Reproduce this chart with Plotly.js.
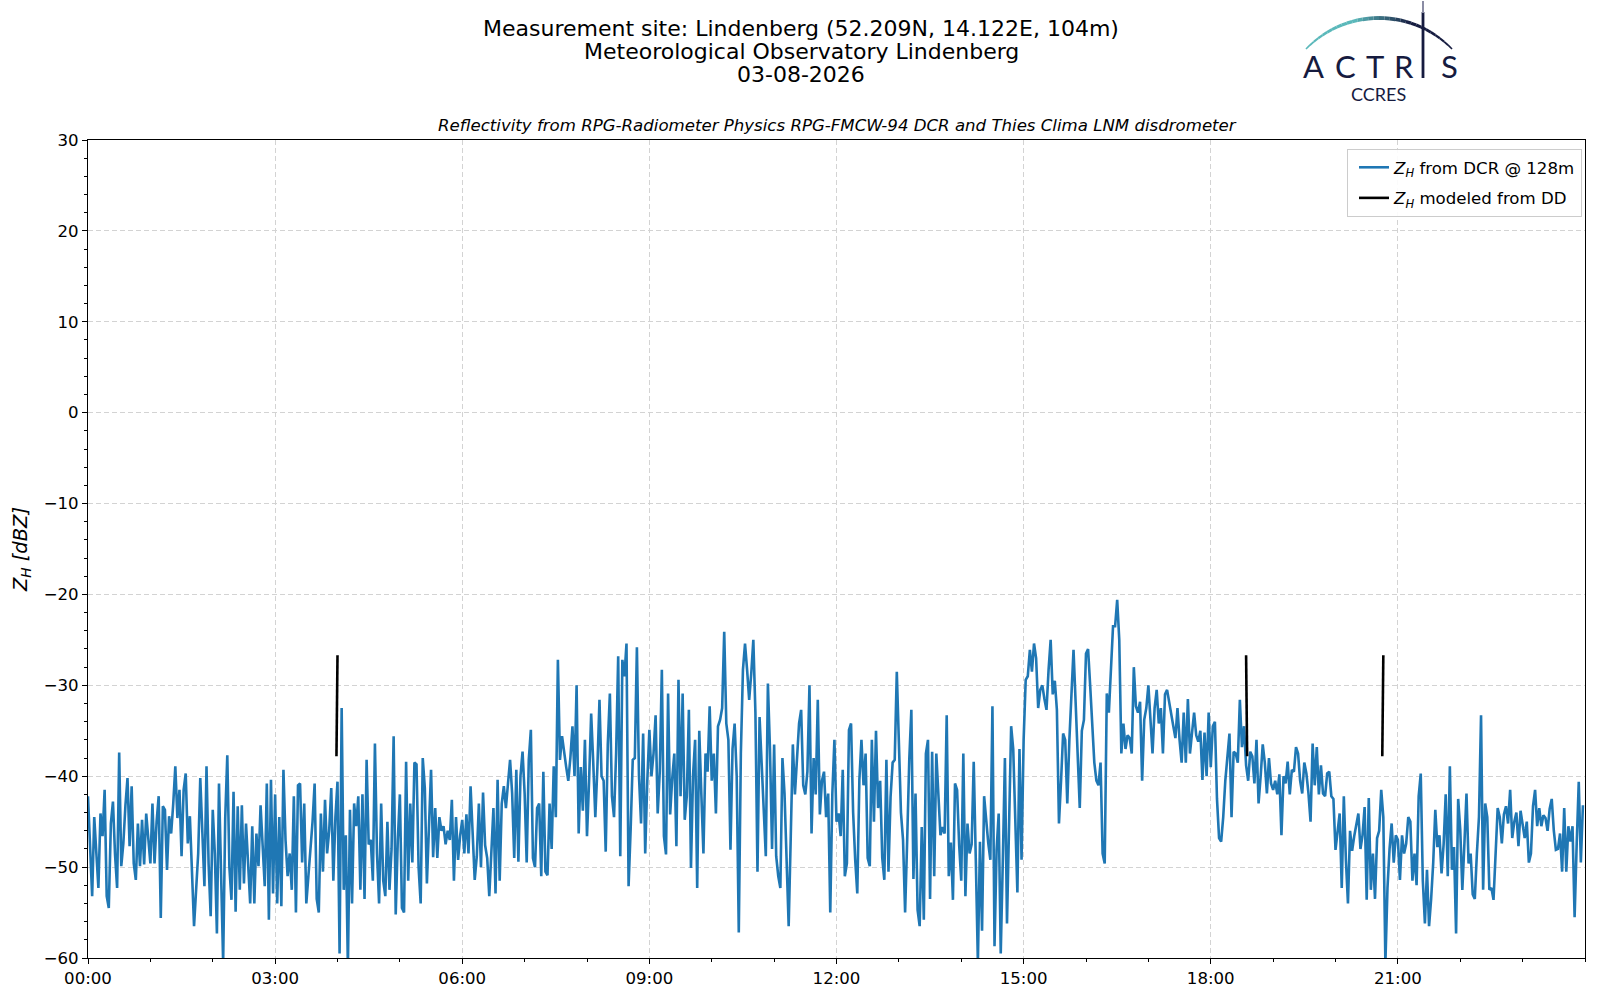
<!DOCTYPE html>
<html>
<head>
<meta charset="utf-8">
<script src="https://cdn.plot.ly/plotly-3.0.1.min.js"></script>
<style>
html,body{margin:0;padding:0;background:#fff;}
#chart{width:1600px;height:1000px;}
</style>
</head>
<body>
<div id="chart"></div>
<script>
// ---- data (2-minute samples) ----
var dayStart = '2026-03-08 00:00';
var stepMinutes = 2;

var zh_00_03 = [-42.2,-48,-53.2,-44.5,-48.3,-52.3,-44.1,-46.6,-41.5,-53.2,-54.5,-45.2,-42.8,-48.6,-52.3,-37.4,-49.9,-47.4,-43.2,-40.2,
-47.7,-41.1,-49.6,-51.4,-45.2,-49.9,-44.8,-49.7,-44.1,-47,-49.6,-43.0,-49.6,-45,-42.2,-55.6,-43.3,-43.7,-50.3,-44.4,
-46.3,-43,-38.9,-44.6,-41.5,-48.8,-41.5,-39.7,-47.4,-44.4,-49.6,-56.5,-52.5,-48.5,-40.2,-45.9,-52.1,-38.9,-49.6,-55.4,
-43.7,-48.5,-57.3,-40.8,-50,-60.5,-44.6,-37.7,-50,-53.6,-41.7,-54.9,-43.3,-52.5,-43.2,-51.8,-45.2,-49,-54.0,-45.5,
-54.0,-46.3,-49.9,-43.2,-48,-52.1,-40.8,-55.8,-40.4,-52.9];

var zh_03_06 = [-42.0,-54.0,-44.5,-54.3,-39.3,-47.0,-51.0,-48.5,-52.5,-42.2,-55.0,-41.0,-40.8,-49.5,-43.0,-54.0,-51.0,-48.0,-45.0,-40.8,
-53.5,-55.0,-44.1,-50.5,-42.6,-48.5,-46.0,-41.3,-51.5,-44.5,-40.6,-59.5,-32.5,-52.5,-46.5,-61,-43.7,-54,-43.0,-45.5,
-42.2,-52.5,-42.0,-53.5,-38.2,-47.5,-47.0,-51.5,-36.4,-48.5,-54,-43,-51.5,-53.2,-45.0,-52.5,-48,-35.6,-55.2,-47,
-42,-54.5,-55,-38.4,-51.5,-43.0,-49.5,-38.5,-38.7,-50,-54,-38,-41.3,-51.8,-46,-39.3,-48.9,-43.5,-49,-44.5,
-46,-45.5,-47.5,-46,-47,-42.6,-51.5,-44.5,-49.2,-46.5];

var zh_06_09 = [-44.8,-48.5,-44.2,-48.5,-41.1,-45.5,-51.4,-48.8,-43.0,-50,-41.8,-47.6,-49,-53.2,-48,-43.5,-52.9,-40.4,-51.5,-43.0,
-41.1,-43.5,-40.8,-38.2,-41.9,-49,-39.3,-49.4,-40.0,-37.3,-41.9,-49.5,-38.2,-34.9,-49,-50,-43.5,-43,-51.0,-39.5,
-50.5,-50.9,-43.0,-48,-38.9,-44.5,-27.2,-38.2,-35.6,-37.5,-39,-40.5,-38,-34.5,-40,-30.0,-46.3,-39,-43.8,-36,
-46.6,-40.5,-33.1,-38.5,-44.5,-39,-31.6,-40,-40.5,-48.3,-36.5,-30.9,-42.2,-44.5,-37.5,-26.8,-48.8,-27.2,-29,-25.4,
-52.1,-45.8,-38.2,-38,-25.8,-40,-45.2,-35.3,-48.5,-40.5];

var zh_09_12 = [-34.9,-40,-37.5,-33.3,-44.1,-39.5,-28.3,-46.6,-48.6,-30.9,-44.2,-40.2,-37.5,-47.7,-29.4,-42.2,-30.9,-44.8,-42.2,-32.7,
-50.1,-39.9,-36,-52.3,-35.0,-42.0,-48.5,-37.5,-39.5,-32.3,-40.5,-37.5,-44.1,-34.5,-33.8,-32.5,-24.1,-34.2,-36.0,-48.1,
-37,-34.2,-40,-57.2,-37.5,-28.3,-25.4,-28.3,-31.6,-28.7,-25,-33.0,-50.5,-33.5,-39.2,-45,-48.8,-29.8,-37,-48,
-36.5,-48.8,-51,-52.3,-38,-41.9,-48.5,-56.5,-46.6,-36.5,-42.0,-38.2,-34.2,-32.7,-41.0,-42,-39.5,-30,-46.3,-38.0,
-42,-31.6,-44.2,-40.5,-39.5,-44.5,-41.9,-55,-41.9,-36.0];

var zh_12_15 = [-45,-44.1,-46.6,-39.3,-51,-49.6,-34.9,-34.2,-44,-49.2,-52.9,-40.4,-36,-41.0,-37.5,-49,-49.9,-36.0,-45.0,-35,
-43.5,-40.5,-49,-51.4,-38.2,-50.5,-42.3,-38.5,-38.2,-28.5,-37.3,-44,-47,-55,-47,-38.2,-32.7,-51.3,-41.9,-54.7,
-56.5,-45.6,-55.8,-37.5,-36.0,-53.5,-37.3,-51.0,-37.5,-41.9,-46.5,-45.6,-46.3,-33.3,-51,-47.3,-53.6,-40.8,-41.5,-47.6,
-51.5,-37.5,-53.2,-45.2,-48.5,-47.5,-38.4,-49.2,-60.5,-47.2,-57,-42.2,-45.2,-47.4,-49.2,-32.3,-58.7,-48.1,-44.1,-59.5,
-49.2,-38.0,-56.2,-45.5,-34.5,-37.0,-43.7,-52.8,-37.0,-49.2];

var zh_15_18 = [-36,-29.4,-29,-26.1,-28.5,-25.4,-27,-32.5,-30.5,-30,-31.5,-32.7,-28.3,-25,-31,-29.5,-32.7,-45.2,-40.5,-35.3,
-36,-43,-36,-31,-26.1,-31.8,-38,-43.5,-35,-33.8,-26.5,-26,-30,-34.5,-38.5,-40.5,-41,-38.5,-48.5,-49.6,
-30.9,-33,-28.3,-23.5,-23.5,-20.6,-25.0,-37.5,-34.2,-37,-35.5,-35.8,-37.5,-28,-32.3,-33,-31.8,-40.5,-33.8,-32.5,
-30,-33.5,-37.5,-32.5,-30.5,-34.2,-32.5,-37.5,-31,-30.5,-32,-33.5,-34.5,-35.8,-32.5,-36,-38.5,-33,-38.5,-31.5,
-37.5,-35.2,-33,-35.5,-36.2,-35,-40.4,-35.2,-40,-33.0];

var zh_18_21 = [-39,-34.5,-34,-42.5,-46.8,-47.2,-44.5,-40.5,-38,-35.3,-44.5,-37.3,-37.5,-38.5,-31.6,-36.8,-34.5,-38.8,-40.5,-37.3,
-37.8,-40.8,-36,-43,-40,-36.5,-38.5,-41.9,-38,-40.8,-41.5,-40.5,-42,-39.8,-46.5,-40,-40.8,-38.4,-42,-39.3,
-39.5,-36.8,-37.5,-40.5,-41.9,-38.5,-39.7,-41.9,-45,-36.4,-41,-36.8,-42,-38.8,-41.9,-42.2,-39.7,-39.5,-42.2,-42.5,
-48.1,-46.3,-44.1,-52.3,-42.2,-49.2,-54,-46,-48.2,-46.6,-45.5,-44.1,-48,-46.5,-43.4,-53.6,-42.4,-52.5,-48.5,-53.5,
-46.8,-46,-41.5,-44.5,-60.5,-52.3,-48,-45.2,-49.5,-46.5];

var zh_21_24 = [-47,-51.4,-46.5,-48.5,-47.4,-44.5,-45,-51.5,-48.5,-52,-42.2,-39.7,-51.5,-56.2,-50.3,-56.5,-53.5,-49.5,-43.7,-47.8,
-46.5,-50.7,-47.5,-42,-51,-38.9,-50.3,-47.8,-57.3,-42.5,-45.9,-52.5,-47.4,-41.9,-49.6,-48.5,-53,-53.5,-48.5,-44.5,
-33.3,-52.5,-43,-44.5,-52.5,-52.3,-53.6,-47.5,-43.5,-44.5,-47.4,-44.2,-43.3,-45.2,-41.5,-46.8,-45,-44,-47.7,-43.8,
-45.5,-46.8,-45,-49.5,-48.5,-43.3,-41.5,-45.5,-43.5,-45.5,-44.3,-44.6,-46,-43.6,-42.5,-46,-48.1,-48,-46.3,-50.5,
-43.5,-50.5,-45.5,-47.2,-45.5,-55.5,-47.5,-40.6,-49.5,-43.2];

// modeled reflectivity from disdrometer (short segments)
var ddTimes  = ['2026-03-08 03:59','2026-03-08 04:00','2026-03-08 12:00','2026-03-08 18:34','2026-03-08 18:35','2026-03-08 19:30','2026-03-08 20:45','2026-03-08 20:46'];
var ddValues = [-37.8, -26.7, null, -26.7, -37.8, null, -37.8, -26.7];

var xTickVals = ['2026-03-08 00:00','2026-03-08 03:00','2026-03-08 06:00','2026-03-08 09:00','2026-03-08 12:00','2026-03-08 15:00','2026-03-08 18:00','2026-03-08 21:00'];
var xTickText = ['00:00','03:00','06:00','09:00','12:00','15:00','18:00','21:00'];

var titleLines = ['Measurement site: Lindenberg (52.209N, 14.122E, 104m)','Meteorological Observatory Lindenberg','03-08-2026'];
var subTitle = 'Reflectivity from RPG-Radiometer Physics RPG-FMCW-94 DCR and Thies Clima LNM disdrometer';

// ---- build series ----
var zhValues = [].concat(zh_00_03, zh_03_06, zh_06_09, zh_09_12, zh_12_15, zh_15_18, zh_18_21, zh_21_24);
function pad(n){return (n<10?'0':'')+n;}
var zhTimes = zhValues.map(function(v,i){
  var m = i*stepMinutes;
  return '2026-03-08 ' + pad(Math.floor(m/60)) + ':' + pad(m%60);
});

// ---- pixel helpers for layout decorations ----
var L = 88, R = 1585, T = 140, B = 958;
function X(px){return (px-L)/(R-L);}
function Y(py){return (B-py)/(B-T);}

var FONT = 'DejaVu Sans, Liberation Sans, sans-serif';

var traces = [
  {x: zhTimes, y: zhValues, type:'scatter', mode:'lines', name:'<i>Z<sub>H</sub></i> from DCR @ 128m',
   legendgroup:'a', line:{color:'#1f77b4', width:2.6}},
  {x: ddTimes, y: ddValues, type:'scatter', mode:'lines', name:'<i>Z<sub>H</sub></i> modeled from DD',
   legendgroup:'b', line:{color:'#000000', width:2.6}, connectgaps:false}
];

// ---- logo (arc with gradient, letters) ----
var shapes = [];
var cx = 1379, cy = 119.5, rad = 101.5;
var a0 = -46, a1 = 46, nSeg = 30;
function lerp(a,b,t){return Math.round(a+(b-a)*t);}
for (var s=0; s<nSeg; s++){
  var ta = a0 + (a1-a0)*s/nSeg, tb = a0 + (a1-a0)*(s+1)/nSeg;
  var xa = cx + rad*Math.sin(ta*Math.PI/180), ya = cy - rad*Math.cos(ta*Math.PI/180);
  var xb = cx + rad*Math.sin(tb*Math.PI/180), yb = cy - rad*Math.cos(tb*Math.PI/180);
  var f = (s+0.5)/nSeg;
  var t = Math.min(1, Math.max(0, (f-0.35)/0.35));
  var col = 'rgb('+lerp(90,22,t)+','+lerp(184,28,t)+','+lerp(186,64,t)+')';
  var w = 1.5 + 2.3*Math.sin(Math.PI*f);
  shapes.push({type:'line', xref:'paper', yref:'paper', x0:X(xa), y0:Y(ya), x1:X(xb), y1:Y(yb),
    line:{color:col, width:w}});
}
// vertical stem of the I
shapes.push({type:'line', xref:'paper', yref:'paper', x0:X(1423), y0:Y(12), x1:X(1423), y1:Y(78), line:{color:'#161b3f', width:2.8}});
shapes.push({type:'line', xref:'paper', yref:'paper', x0:X(1423), y0:Y(1), x1:X(1423), y1:Y(13), line:{color:'#8a8ca4', width:2}});

var annotations = [];
titleLines.forEach(function(txt, i){
  annotations.push({text: txt, xref:'paper', yref:'paper', x:X(801), y:Y([29,51.5,74.5][i]),
    xanchor:'center', yanchor:'middle', showarrow:false, font:{family:FONT, size:22, color:'#000'}});
});
annotations.push({text:'<i>'+subTitle+'</i>', xref:'paper', yref:'paper', x:X(838), y:Y(126),
  xanchor:'center', yanchor:'middle', showarrow:false, font:{family:FONT, size:16.6, color:'#000'}});

var logoLetters = ['A','C','T','R','S'];
var logoX = [1313, 1345, 1375, 1404, 1449];
logoLetters.forEach(function(ch, i){
  annotations.push({text: ch, xref:'paper', yref:'paper', x:X(logoX[i]), y:Y(66), xanchor:'center', yanchor:'middle',
    showarrow:false, font:{family:'Lato, DejaVu Sans, sans-serif', size:31, color:'#161b3f'}});
});
annotations.push({text:'CCRES', xref:'paper', yref:'paper', x:X(1378), y:Y(94), xanchor:'center', yanchor:'middle',
  showarrow:false, font:{family:'Lato, DejaVu Sans, sans-serif', size:18, color:'#161b3f'}});

var layout = {
  width:1600, height:1000,
  margin:{l:L, r:1600-R, t:T, b:1000-B, pad:0},
  paper_bgcolor:'#fff', plot_bgcolor:'#fff',
  font:{family:FONT, size:16, color:'#000'},
  showlegend:true,
  legend:{x:X(1582), y:Y(149), xanchor:'right', yanchor:'top', bgcolor:'rgba(255,255,255,0.9)',
    bordercolor:'#cccccc', borderwidth:1, font:{family:FONT, size:16.6, color:'#000'}, tracegroupgap:6,
    indentation:6},
  xaxis:{type:'date', range:['2026-03-08 00:00','2026-03-09 00:00'],
    tickmode:'array', tickvals:xTickVals, ticktext:xTickText,
    ticks:'outside', ticklen:5, tickwidth:1, tickcolor:'#000',
    showline:true, linecolor:'#000', linewidth:1, mirror:true,
    showgrid:true, gridcolor:'#d3d3d3', griddash:'5px,3px', gridwidth:1,
    zeroline:false, tickfont:{family:FONT, size:16.6, color:'#000'},
    minor:{dtick:3600000, tick0:'2026-03-08 00:00', ticks:'outside', ticklen:3, tickcolor:'#000', showgrid:false}},
  yaxis:{range:[-60,30], dtick:10, tick0:0,
    ticks:'outside', ticklen:5, tickwidth:1, tickcolor:'#000',
    showline:true, linecolor:'#000', linewidth:1, mirror:true,
    showgrid:true, gridcolor:'#d3d3d3', griddash:'5px,3px', gridwidth:1,
    zeroline:false, tickfont:{family:FONT, size:16.6, color:'#000'},
    title:{text:'<i>Z<sub>H</sub> [dBZ]</i>', font:{family:FONT, size:19.5, color:'#000'}, standoff:10},
    minor:{dtick:2, ticks:'outside', ticklen:3, tickcolor:'#000', showgrid:false}},
  shapes: shapes,
  annotations: annotations
};

Plotly.newPlot('chart', traces, layout, {displayModeBar:false, staticPlot:true});
</script>
</body>
</html>
